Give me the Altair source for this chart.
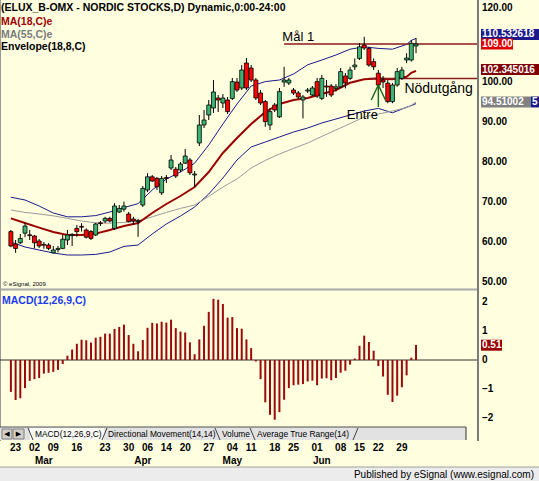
import altair as alt
import pandas as pd

# ---------------- data ----------------
day = list(range(87))
open_ = [62.1, 59.0, 59.3, 61.7, 61.3, 61.0, 59.75, 58.9, 58.75, 56.8,
         57.6, 57.9, 60.0, 61.1, 62.9, 63.4, 62.5, 62.1, 61.25, 64.3,
         64.75, 65.4, 62.9, 67.0, 67.7, 66.5, 65.25, 64.6, 68.75, 72.5,
         75.8, 75.4, 71.8, 75.6, 78.0, 77.7, 77.5, 79.2, 80.0, 76.25,
         84.25, 88.75, 91.25, 93.0, 95.5, 94.25, 95.0, 95.4, 99.5, 98.0,
         104.25, 103.0, 100.0, 96.75, 94.6, 88.75, 93.75, 90.8, 99.5, 99.25,
         97.5, 96.75, 95.0, 97.25, 96.25, 99.6, 95.4, 98.5, 98.5, 97.9,
         98.3, 101.0, 100.4, 103.3, 105.4, 108.75, 107.9, 104.6, 101.7, 100.0,
         99.2, 94.6, 98.75, 100.4, 105.0, 105.0, 108.5]
high = [62.5, 60.0, 61.5, 64.3, 62.5, 61.25, 60.25, 59.5, 59.2, 58.5,
        58.5, 61.25, 62.5, 61.7, 63.75, 64.2, 62.9, 62.5, 64.3, 64.75,
        65.8, 65.8, 69.2, 68.75, 69.6, 67.0, 65.8, 65.25, 73.5, 76.7,
        76.25, 75.75, 76.0, 76.25, 81.25, 78.25, 79.5, 82.75, 80.5, 77.25,
        91.25, 92.5, 95.0, 100.0, 96.25, 96.5, 95.75, 100.5, 100.5, 103.75,
        105.5, 103.75, 100.5, 97.5, 95.0, 93.0, 94.25, 98.0, 103.3, 100.5,
        98.0, 97.25, 96.25, 98.0, 98.5, 100.5, 101.25, 100.0, 99.0, 99.0,
        103.0, 101.75, 103.3, 105.4, 109.2, 110.8, 108.3, 105.4, 102.5, 101.0,
        100.0, 99.25, 103.0, 103.3, 106.7, 110.0, 110.5]
low = [58.2, 56.8, 59.0, 60.7, 60.0, 57.9, 58.0, 57.8, 57.5, 56.7,
       56.9, 57.7, 58.75, 58.5, 60.8, 62.1, 60.4, 60.0, 61.0, 63.5,
       64.2, 64.4, 62.5, 66.75, 67.1, 64.4, 63.75, 60.8, 68.25, 72.0,
       74.5, 72.5, 71.25, 74.25, 77.5, 75.5, 77.0, 79.0, 76.25, 73.25,
       83.5, 88.0, 90.0, 91.75, 92.0, 93.0, 91.5, 95.0, 97.0, 97.5,
       97.5, 99.5, 95.0, 93.75, 88.3, 87.5, 92.0, 90.5, 98.3, 98.75,
       96.25, 95.25, 90.4, 96.75, 96.0, 95.5, 95.0, 95.8, 95.75, 97.1,
       98.0, 97.9, 100.0, 102.5, 105.0, 107.5, 103.3, 102.5, 97.9, 98.0,
       94.2, 94.2, 98.3, 100.0, 104.2, 104.6, 106.7]
close = [58.5, 57.9, 60.4, 63.5, 61.1, 59.3, 58.5, 58.7, 57.9, 57.5,
         57.9, 60.2, 61.25, 61.4, 62.1, 63.2, 60.7, 60.4, 64.0, 64.1,
         65.4, 64.75, 68.5, 67.9, 68.5, 64.6, 64.75, 64.9, 72.9, 75.8,
         74.75, 73.3, 75.4, 75.4, 80.0, 76.0, 79.0, 81.0, 76.8, 76.5,
         88.75, 90.0, 93.75, 97.0, 95.0, 95.5, 92.1, 99.6, 97.5, 102.5,
         98.0, 100.0, 95.5, 94.25, 89.6, 92.1, 92.5, 97.1, 100.0, 100.0,
         96.75, 95.75, 95.75, 97.5, 98.0, 96.0, 100.4, 98.25, 96.25, 98.3,
         102.1, 99.25, 102.5, 103.75, 108.3, 108.0, 103.75, 103.3, 98.75, 99.5,
         94.6, 98.75, 102.1, 102.5, 105.5, 109.2, 109.0]
macd = [-1.10, -1.38, -1.32, -0.97, -0.72, -0.66, -0.62, -0.47, -0.44, -0.41,
        -0.34, -0.14, 0.15, 0.36, 0.56, 0.70, 0.68, 0.60, 0.77, 0.80,
        0.91, 0.91, 1.07, 1.14, 1.22, 0.86, 0.56, 0.30, 0.69, 1.11,
        1.28, 1.26, 1.32, 1.29, 1.39, 1.10, 0.98, 0.95, 0.61, 0.20,
        0.71, 1.18, 1.66, 2.11, 2.08, 1.93, 1.46, 1.48, 1.10, 1.08,
        0.71, 0.41, -0.05, -0.66, -1.46, -1.89, -2.06, -1.80, -1.37, -0.97,
        -0.87, -0.85, -0.83, -0.74, -0.71, -0.87, -0.64, -0.63, -0.70, -0.62,
        -0.44, -0.37, -0.16, 0.05, 0.49, 0.84, 0.62, 0.32, -0.21, -0.57,
        -1.20, -1.45, -1.23, -0.94, -0.53, 0.08, 0.52]

line_day = [0, 3, 6, 9, 12, 15, 18, 21, 24, 27, 30, 33, 36, 39, 42, 45,
            48, 51, 54, 57, 60, 63, 66, 69, 72, 75, 78, 81, 84, 85, 86]
ma18 = [65.4, 64.25, 63.1, 62.0, 61.25, 61.25, 61.6, 62.5, 63.5, 64.25,
        66.75, 69.0, 71.0, 73.25, 77.0, 81.75, 85.5, 89.0, 92.0, 94.0,
        95.0, 95.5, 96.5, 97.5, 99.3, 100.2, 100.4, 100.2, 100.8, 101.8, 102.3]
ma55 = [67.5, 66.9, 66.5, 66.05, 65.4, 64.75, 64.3, 64.2, 64.4, 64.75,
        65.8, 66.9, 67.9, 68.75, 70.9, 73.25, 75.25, 78.0, 79.9, 81.5,
        82.9, 84.25, 85.9, 87.5, 89.1, 90.75, 91.5, 92.25, 93.1, 93.7, 94.5]
env_up = [70.7, 70.0, 68.5, 66.75, 65.8, 65.8, 66.1, 67.0, 68.1, 69.1,
          72.5, 75.25, 77.0, 79.2, 83.75, 89.0, 94.0, 98.5, 99.6, 100.0,
          101.5, 103.8, 105.0, 106.25, 107.7, 108.3, 107.9, 107.7, 108.9, 109.9, 110.4]
env_lo = [59.5, 58.25, 57.5, 56.75, 56.25, 56.25, 56.4, 57.0, 58.4, 58.75,
          61.5, 64.0, 66.0, 68.25, 71.5, 75.5, 80.0, 83.25, 84.5, 85.75,
          87.0, 88.0, 89.25, 90.25, 91.25, 92.25, 92.9, 91.8, 93.2, 93.6, 94.1]

price_ticks = [50, 60, 70, 80, 90, 100]
price_top_tick = [120]
macd_ticks = [2, 1, 0, -1, -2]
day_label_pos = [1, 5, 9, 14, 20, 25, 29, 33, 37, 42, 47, 51, 56, 60, 65, 70, 74, 78, 83]
day_label_txt = ["23", "02", "09", "16", "23", "30", "06", "14", "20", "27",
                 "04", "11", "18", "25", "01", "08", "15", "22", "29"]
month_pos = [7, 28, 47, 66]
month_txt = ["Mar", "Apr", "May", "Jun"]
tab_names = ["MACD(12,26,9,C)", "Directional Movement(14,14)", "Volume", "Average True Range(14)"]

target_start = [58, 76]          # Mål 1, Nödutgång
target_price = [109.0, 100.4]
entry_day = 78
entry_tip = 98.75

# ---------------- styling ----------------
W, H = 539, 481
AXX = 478
BG = "#FFFFE0"
FONT = "Liberation Sans"
GREEN = "#3CB371"
RED = "#FF0000"
DARKRED = "#990000"
NAVY = "#1A1A8C"

XS = alt.Scale(domain=[-1.25, (W - 6) / 4.8], nice=False, zero=False)
PS = alt.Scale(domain=[120 - H / 4, 120], nice=False, zero=False)
MS = alt.Scale(domain=[(360 - H) / 29, 360 / 29], nice=False, zero=False)


def X(f="day"):
    return alt.X(f"{f}:Q", scale=XS, axis=None)


def YP(f):
    return alt.Y(f"{f}:Q", scale=PS, axis=None)


def YM(f):
    return alt.Y(f"{f}:Q", scale=MS, axis=None)


ONE = pd.DataFrame({"a": [0]})


def txt(text, x, y, size=10, color="black", weight="bold", align="left", baseline="middle", font=FONT):
    return alt.Chart(ONE).mark_text(text=text, align=align, baseline=baseline, fontSize=size,
                                    fontWeight=weight, color=color, font=font).encode(
        x=alt.value(x), y=alt.value(y))


def box(x1, x2, y1, y2, fill, stroke=None):
    kw = dict(fill=fill)
    if stroke:
        kw.update(stroke=stroke, strokeWidth=1)
    return alt.Chart(ONE).mark_rect(**kw).encode(x=alt.value(x1), x2=alt.value(x2),
                                                 y=alt.value(y1), y2=alt.value(y2))


def hline(x1, x2, y, color, w=1):
    return alt.Chart(ONE).mark_rule(color=color, strokeWidth=w).encode(
        x=alt.value(x1), x2=alt.value(x2), y=alt.value(y))


def seg(x1, y1, x2, y2, color, w=1):
    return alt.Chart(ONE).mark_rule(color=color, strokeWidth=w).encode(
        x=alt.value(x1), y=alt.value(y1), x2=alt.value(x2), y2=alt.value(y2))


def vline(x, y1, y2, color, w=1):
    return alt.Chart(ONE).mark_rule(color=color, strokeWidth=w).encode(
        x=alt.value(x), y=alt.value(y1), y2=alt.value(y2))


cdf = pd.DataFrame({"day": day, "open": open_, "high": high, "low": low, "close": close})
cdf["dir"] = ["up" if c >= o else "down" for o, c in zip(open_, close)]
ldf = pd.DataFrame({"day": line_day, "ma18": ma18, "ma55": ma55, "up": env_up, "lo": env_lo})
mdf = pd.DataFrame({"day": day, "macd": macd, "zero": [0.0] * len(day)})

layers = []

# panel frame pieces
layers.append(vline(0.5, 0, 441, "#9A9A9A", 1))
layers.append(hline(0, AXX, 289.5, "#A8A8A8", 2))

# envelope + MAs
layers.append(alt.Chart(ldf).mark_line(color=NAVY, strokeWidth=1).encode(x=X(), y=YP("up")))
layers.append(alt.Chart(ldf).mark_line(color=NAVY, strokeWidth=1).encode(x=X(), y=YP("lo")))
layers.append(alt.Chart(ldf).mark_line(color="#9A9A9A", strokeWidth=1).encode(x=X(), y=YP("ma55")))
layers.append(alt.Chart(ldf).mark_line(color=DARKRED, strokeWidth=2).encode(x=X(), y=YP("ma18")))

# target lines
tdf = pd.DataFrame({"start": target_start, "p": target_price})
layers.append(alt.Chart(tdf).mark_rule(color="#8B1A1A", strokeWidth=1.5).encode(
    x=X("start"), x2=alt.value(AXX), y=YP("p")))

# candles
layers.append(alt.Chart(cdf).mark_rule(color="black", strokeWidth=1).encode(
    x=X(), y=YP("low"), y2=alt.Y2("high:Q")))
layers.append(alt.Chart(cdf).mark_bar(size=4, stroke="black", strokeWidth=0.8).encode(
    x=X(), y=YP("open"), y2=alt.Y2("close:Q"),
    fill=alt.Fill("dir:N", scale=alt.Scale(domain=["up", "down"], range=[GREEN, RED]), legend=None)))

# entry arrow
adf = pd.DataFrame({"x": [entry_day - 1.5, entry_day + 1.5, entry_day],
                    "y": [entry_tip - 3.75, entry_tip - 3.75, entry_tip - 5.5],
                    "x2": [entry_day] * 3, "y2": [entry_tip] * 3})
layers.append(alt.Chart(adf).mark_rule(color="#1E6B1E", strokeWidth=1.5).encode(
    x=X("x"), x2=alt.X2("x2:Q"), y=YP("y"), y2=alt.Y2("y2:Q")))

# annotations
ann = pd.DataFrame({"t": ["Mål 1", "Entre", "Nödutgång"], "day": [61.0, 74.6, 90.8],
                    "p": [110.75, 91.25, 97.75], "s": [13, 13, 14]})
for i in range(3):
    layers.append(alt.Chart(ann.iloc[[i]]).mark_text(font=FONT, fontSize=int(ann.s[i]), color="black",
                                                     align="center", baseline="middle").encode(
        x=X("day"), y=YP("p"), text="t:N"))

# MACD
layers.append(alt.Chart(ONE.assign(v=0.0)).mark_rule(color="#303030", strokeWidth=1).encode(
    y=YM("v"), x=alt.value(0), x2=alt.value(AXX)))
layers.append(alt.Chart(mdf).mark_bar(size=2, color="#9B0A0A").encode(
    x=X(), y=YM("macd"), y2=alt.Y2("zero:Q")))

# right axis line
layers.append(vline(AXX, 0, 441, "#7A7A7A", 2))

# price axis labels
pt = pd.DataFrame({"v": price_ticks})
layers.append(alt.Chart(pt).transform_calculate(lab="format(datum.v, '.2f')").mark_text(
    font=FONT, fontSize=10, fontWeight="bold", align="left", baseline="middle", dy=1.5, color="black").encode(
    x=alt.value(482), y=YP("v"), text="lab:N"))
pt2 = pd.DataFrame({"v": price_top_tick})
layers.append(alt.Chart(pt2).transform_calculate(lab="format(datum.v, '.2f')").mark_text(
    font=FONT, fontSize=10, fontWeight="bold", align="left", baseline="top", dy=3, color="black").encode(
    x=alt.value(482), y=YP("v"), text="lab:N"))

# macd axis labels
mt = pd.DataFrame({"v": macd_ticks})
layers.append(alt.Chart(mt).transform_calculate(lab="format(datum.v, 'd')").mark_text(
    font=FONT, fontSize=10, fontWeight="bold", align="left", baseline="middle", color="black").encode(
    x=alt.value(482), y=YM("v"), text="lab:N"))

# value boxes (last values)
vb = pd.DataFrame({"p": [111.4, 109.0, 102.6, 94.51, 94.51],
                   "x1": [481, 481, 481, 531, 481],
                   "x2": [539, 513, 539, 539, 531],
                   "c": [NAVY, "#E00000", "#800000", NAVY, "#808080"],
                   "t": ["110.532618", "109.00", "102.345016", "5", "94.51002"]})
for i in range(len(vb)):
    r = vb.iloc[[i]]
    layers.append(alt.Chart(r).mark_rule(color=vb.c[i], strokeWidth=11, strokeCap="butt").encode(
        x=alt.value(int(vb.x1[i])), x2=alt.value(int(vb.x2[i])), y=YP("p")))
    layers.append(alt.Chart(r).mark_text(font=FONT, fontSize=10, fontWeight="bold", color="white",
                                         align="left", baseline="middle").encode(
        x=alt.value(int(vb.x1[i]) + 1), y=YP("p"), text="t:N"))
mb = pd.DataFrame({"m": [0.51], "t": ["0.51"]})
layers.append(alt.Chart(mb).mark_rule(color=DARKRED, strokeWidth=11, strokeCap="butt").encode(
    x=alt.value(481), x2=alt.value(502), y=YM("m")))
layers.append(alt.Chart(mb).mark_text(font=FONT, fontSize=10, fontWeight="bold", color="white",
                                      align="left", baseline="middle").encode(
    x=alt.value(482), y=YM("m"), text="t:N"))

# titles
layers.append(txt("(ELUX_B-OMX - NORDIC STOCKS,D) Dynamic,0:00-24:00", 1, 8, 10.5))
layers.append(txt("MA(18,C)e", 1, 21.5, 10.5, color="#A00000"))
layers.append(txt("MA(55,C)e", 1, 34.5, 10.5, color="#7A7A7A"))
layers.append(txt("Envelope(18,8,C)", 1, 47, 10.5))
layers.append(txt("© eSignal, 2009", 3, 284, 6, weight="normal"))
layers.append(txt("MACD(12,26,9,C)", 2, 301, 10.5, color="#1A3AF0"))

# tab bar
layers.append(box(0, 466, 427, 440, "#E2E2E2"))
layers.append(hline(0, 466, 427, "#505050", 1))
layers.append(box(30, 104, 428, 440, "#FAFAF5"))
layers.append(box(2, 12, 429, 439, "#D4D0C8", "#808080"))
layers.append(box(13, 24, 429, 439, "#D4D0C8", "#808080"))
layers.append(txt("◀", 7, 434, 7, weight="normal", align="center", font="DejaVu Sans"))
layers.append(txt("▶", 18.5, 434, 7, weight="normal", align="center", font="DejaVu Sans"))
layers.append(vline(466, 427, 440, "#303030", 1))
for x1, x2, slant in [(28, 33, 1), (102, 107, -1), (215, 220, 1), (250, 255, 1), (353, 358, -1)]:
    if slant > 0:
        layers.append(seg(x1, 428, x2, 440, "#404040", 1))
    else:
        layers.append(seg(x2, 428, x1, 440, "#404040", 1))
for name, tx in zip(tab_names, [35, 108, 222, 257]):
    layers.append(txt(name, tx, 434, 8.4, weight="normal"))

# date labels
ddf = pd.DataFrame({"pos": day_label_pos, "t": day_label_txt})
layers.append(alt.Chart(ddf).mark_text(font=FONT, fontSize=10, fontWeight="bold", color="black",
                                       align="center", baseline="middle").encode(
    x=X("pos"), y=alt.value(447.5), text="t:N"))
mdf2 = pd.DataFrame({"pos": month_pos, "t": month_txt})
layers.append(alt.Chart(mdf2).mark_text(font=FONT, fontSize=10, fontWeight="bold", color="black",
                                        align="center", baseline="middle").encode(
    x=X("pos"), y=alt.value(460.5), text="t:N"))

# footer
layers.append(box(0, W, 467, H, "#ECECEC"))
layers.append(hline(0, W, 467, "#A0A0A0", 1))
layers.append(txt("Published by eSignal (www.esignal.com)", 534, 474.5, 10, weight="normal", align="right"))

chart = alt.layer(*layers).resolve_scale(y="independent").properties(
    width=W, height=H, autosize=alt.AutoSizeParams(type="none"), padding=0, background=BG
).configure_view(stroke=None)

chart.save("out.html", embed_options={"renderer": "svg", "actions": False})
